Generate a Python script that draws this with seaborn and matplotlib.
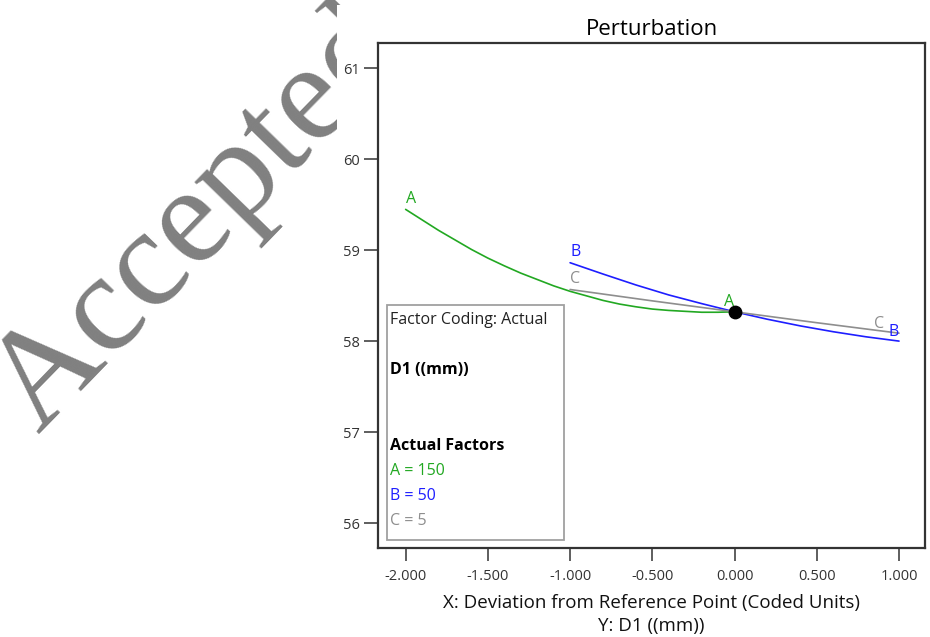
"""
Perturbation plot for D1 ((mm)) with an 'Accepted' manuscript watermark.
"""
import matplotlib
matplotlib.use("Agg")
import matplotlib.pyplot as plt
import pandas as pd
import seaborn as sns
from matplotlib.patches import Rectangle

# ---- data ----
A_X = [-2.0, -1.9, -1.8, -1.7, -1.6, -1.5, -1.4, -1.3, -1.2, -1.1, -1.0,
       -0.9, -0.8, -0.7, -0.6, -0.5, -0.4, -0.3, -0.2, -0.1, 0.0]
A_Y = [59.45, 59.335, 59.22, 59.115, 59.01, 58.915, 58.83, 58.75, 58.68, 58.61, 58.55,
       58.50, 58.45, 58.41, 58.38, 58.355, 58.34, 58.33, 58.32, 58.32, 58.325]
B_X = [-1.0, -0.8, -0.6, -0.4, -0.2, 0.0, 0.2, 0.4, 0.6, 0.8, 1.0]
B_Y = [58.864, 58.74, 58.62, 58.51, 58.415, 58.325, 58.243, 58.17, 58.106, 58.05, 58.003]
C_X = [-1.0, -0.5, 0.0, 0.5, 1.0]
C_Y = [58.57, 58.445, 58.325, 58.205, 58.09]
REF_X = [0.0]
REF_Y = [58.325]

X_TICKS = [-2.0, -1.5, -1.0, -0.5, 0.0, 0.5, 1.0]
Y_TICKS = [56, 57, 58, 59, 60, 61]

FACTORS = ["A", "B", "C"]
FACTOR_VALUES = ["150", "50", "5"]
COLORS = {"A": "#22a822", "B": "#1e1eff", "C": "#8e8e8e"}

sns.set_theme(style="ticks")
plt.rcParams["font.family"] = ["Open Sans", "DejaVu Sans"]

df = pd.concat([
    pd.DataFrame({"x": A_X, "y": A_Y, "factor": "A"}),
    pd.DataFrame({"x": B_X, "y": B_Y, "factor": "B"}),
    pd.DataFrame({"x": C_X, "y": C_Y, "factor": "C"}),
])

fig = plt.figure(figsize=(9.3, 6.37), dpi=100)

# watermark behind the pasted chart
fig.text(38 / 930, 1 - 434 / 637, "Accepted", family="Liberation Serif",
         fontsize=101, color="#808080", rotation=45.8, rotation_mode="anchor",
         ha="left", va="baseline", zorder=-3)
fig.patches.append(Rectangle((337 / 930, 0), 1, 1 - 5 / 637, transform=fig.transFigure,
                             facecolor="white", edgecolor="none", zorder=-2))

ax = fig.add_axes([378 / 930, 1 - 548 / 637, 547 / 930, 505 / 637])

sns.lineplot(data=df, x="x", y="y", hue="factor", palette=COLORS, sort=False,
             estimator=None, linewidth=1.2, legend=False, ax=ax)
ax.scatter(REF_X, REF_Y, s=80, color="black", zorder=5)

# factor letters at both ends of each trace
ends = {"A": (A_X, A_Y, 0), "B": (B_X, B_Y, 0), "C": (C_X, C_Y, -11)}
for f, (xs, ys, shift) in ends.items():
    ax.annotate(f, (xs[0], ys[0]), xytext=(0, 2), textcoords="offset points",
                ha="left", va="bottom", color=COLORS[f], fontsize=11.5)
    ax.annotate(f, (xs[-1], ys[-1]), xytext=(shift, 1), textcoords="offset points",
                ha="right", va="bottom", color=COLORS[f], fontsize=11.5)

ax.set_xlim(-2.168, 1.158)
ax.set_ylim(55.73, 61.278)
ax.set_xticks(X_TICKS)
ax.set_xticklabels([f"{v:.3f}" for v in X_TICKS])
ax.set_yticks(Y_TICKS)
ax.tick_params(axis="x", length=9, width=1.1, pad=6, labelsize=10.5, colors="#333333")
ax.tick_params(axis="y", length=10, width=1.1, pad=3, labelsize=10.5, colors="#333333")
for s in ax.spines.values():
    s.set_visible(True)
    s.set_linewidth(1.6)
    s.set_color("#333333")

ax.set_title("Perturbation", fontsize=16, pad=6, color="black")
ax.set_xlabel("X: Deviation from Reference Point (Coded Units)\nY: D1 ((mm))",
              fontsize=13.5, labelpad=7, linespacing=1.42, color="#111111")
ax.set_ylabel("")

# factor box
ax.add_patch(Rectangle((0.0159, 0.0158), 0.324, 0.465, transform=ax.transAxes,
                       facecolor="white", edgecolor="#a0a0a0", linewidth=1.3, zorder=6))
tx = 0.0219
ax.text(tx, 0.4515, "Factor Coding: Actual", transform=ax.transAxes, va="center",
        fontsize=11.5, color="#222222", zorder=7)
ax.text(tx, 0.352, "D1 ((mm))", transform=ax.transAxes, va="center",
        fontsize=11.5, fontweight="bold", color="black", zorder=7)
ax.text(tx, 0.202, "Actual Factors", transform=ax.transAxes, va="center",
        fontsize=11.5, fontweight="bold", color="black", zorder=7)
for i, (f, v) in enumerate(zip(FACTORS, FACTOR_VALUES)):
    ax.text(tx, 0.1525 - 0.0495 * i, f"{f} = {v}", transform=ax.transAxes,
            va="center", fontsize=11.5, color=COLORS[f], zorder=7)

fig.savefig("out.png", dpi=100)
